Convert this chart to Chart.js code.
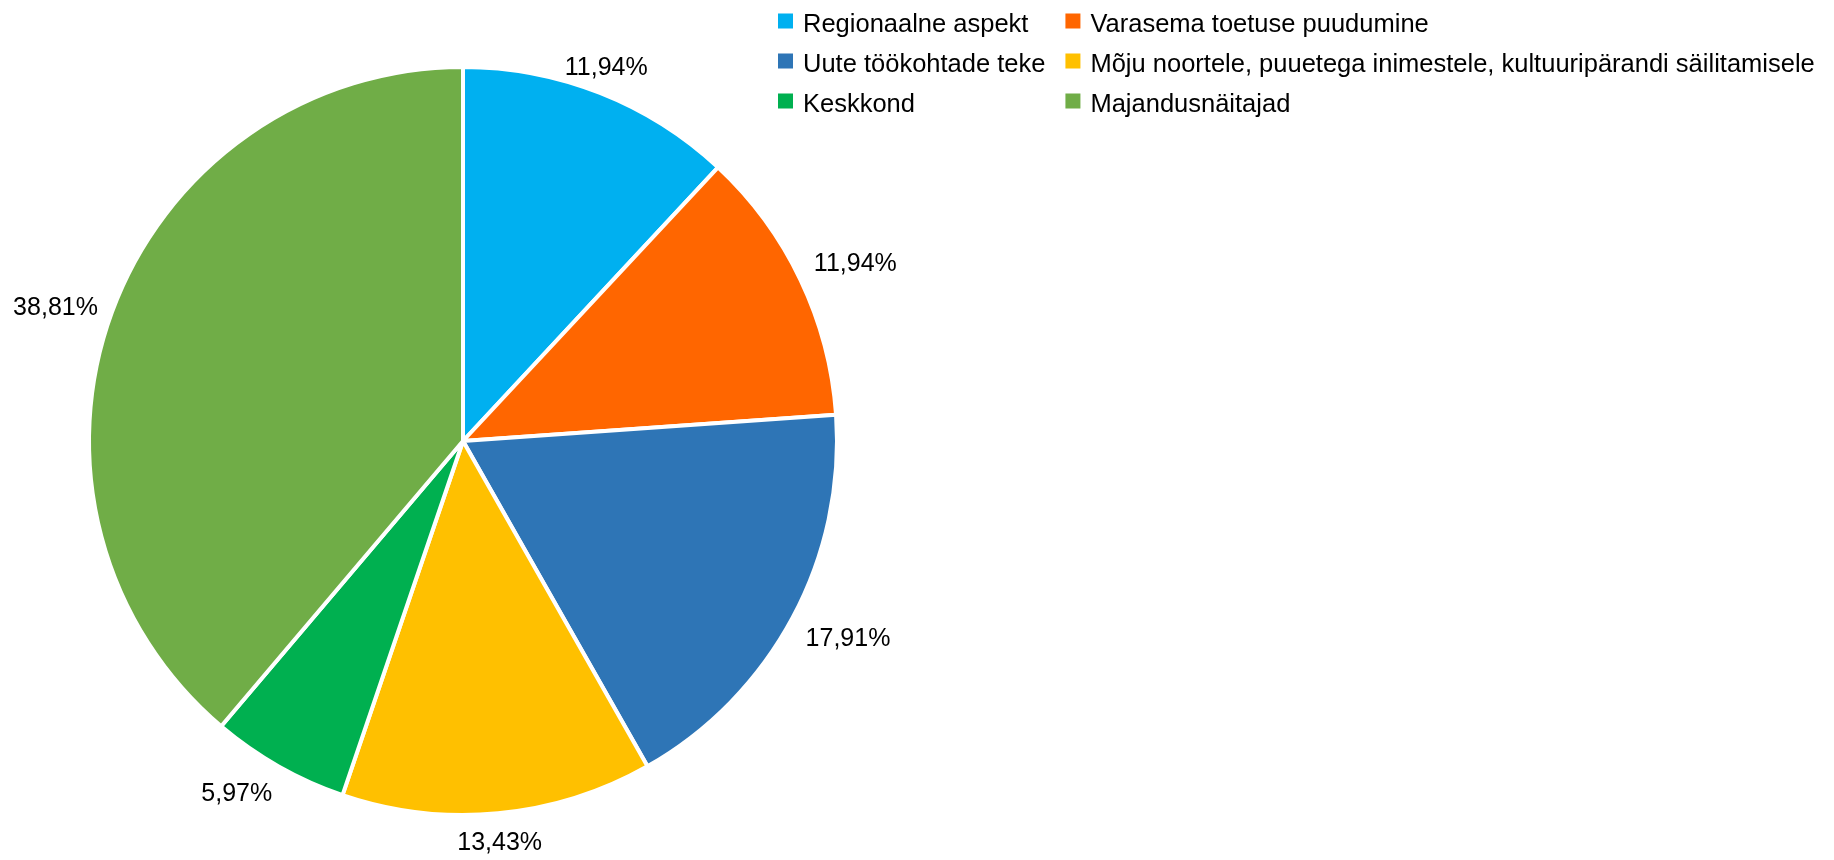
<!DOCTYPE html>
<html><head><meta charset="utf-8">
<script src="https://cdn.jsdelivr.net/npm/chart.js@4"></script>
<style>html,body{margin:0;padding:0;background:#fff;} #wrap{width:1834px;height:860px;position:relative;}</style>
</head><body><div id="wrap"><canvas id="c" width="1834" height="860"></canvas></div>
<script>
const categories = ["Regionaalne aspekt", "Varasema toetuse puudumine", "Uute töökohtade teke", "Mõju noortele, puuetega inimestele, kultuuripärandi säilitamisele", "Keskkond", "Majandusnäitajad"];
const shares = [11.94, 11.94, 17.91, 13.43, 5.97, 38.81];
const sliceColors = ["#00B0F0", "#FF6600", "#2E75B6", "#FFC000", "#00B050", "#70AD47"];

const LABEL_FONT = '25px "Liberation Sans", Arial, sans-serif';
const LEGEND_FONT = '25.5px "Liberation Sans", Arial, sans-serif';

// Outside-end data labels: anchor point on the mid-angle ray, box attached by octant
const labelPlugin = {
  id: 'outLabels',
  afterDatasetsDraw(chart) {
    const ctx = chart.ctx;
    const meta = chart.getDatasetMeta(0);
    const sx = [0, 1, 1, 1, 0, -1, -1, -1];
    const sy = [-1, -1, 0, 1, 1, 1, 0, -1];
    ctx.save();
    ctx.font = LABEL_FONT; ctx.fillStyle = '#000'; ctx.textAlign = 'center'; ctx.textBaseline = 'alphabetic';
    meta.data.forEach((arc, i) => {
      const p = arc.getProps(['x', 'y', 'startAngle', 'endAngle', 'outerRadius'], true);
      const mid = (p.startAngle + p.endAngle) / 2;
      const dx = Math.cos(mid), dy = Math.sin(mid);
      const txt = shares[i].toFixed(2).replace('.', ',') + '%';
      const m = ctx.measureText(txt);
      const asc = m.actualBoundingBoxAscent;
      const hw = m.width / 2 - 2, hh = asc / 2 + 2;
      const D = p.outerRadius + 17;
      const px = p.x + dx * D, py = p.y + dy * D;
      let deg = (mid * 180 / Math.PI + 90) % 360; if (deg < 0) deg += 360;
      const o = Math.round(deg / 45) % 8;
      const cx = px + hw * sx[o], cy = py + hh * sy[o];
      ctx.fillText(txt, cx, cy + asc / 2);
    });
    ctx.restore();
  }
};

const legendPlugin = {
  id: 'gridLegend',
  afterDraw(chart) {
    const ctx = chart.ctx;
    ctx.save();
    ctx.font = LEGEND_FONT; ctx.textBaseline = 'alphabetic'; ctx.textAlign = 'left';
    const x0 = 778, y0 = 21, rowH = 40, box = 15, textGap = 25, colGap = 20;
    const col1W = Math.max(...categories.filter((_, i) => i % 2 === 0).map(t => ctx.measureText(t).width));
    const colX = [x0, x0 + textGap + col1W + colGap];
    categories.forEach((t, i) => {
      const cx = colX[i % 2], cy = y0 + Math.floor(i / 2) * rowH;
      ctx.fillStyle = sliceColors[i];
      ctx.fillRect(cx, cy - box / 2, box, box);
      ctx.fillStyle = '#000';
      ctx.fillText(t, cx + textGap, cy + 10.5);
    });
    ctx.restore();
  }
};

new Chart(document.getElementById('c'), {
  type: 'pie',
  data: {
    labels: categories,
    datasets: [{
      data: shares,
      backgroundColor: sliceColors,
      borderColor: '#ffffff',
      borderWidth: 4,
      hoverBorderWidth: 4
    }]
  },
  options: {
    responsive: false,
    animation: false,
    layout: { padding: { left: 87, top: 65, right: 995, bottom: 43 } },
    plugins: { legend: { display: false }, tooltip: { enabled: false } }
  },
  plugins: [labelPlugin, legendPlugin]
});
</script>
</body></html>
